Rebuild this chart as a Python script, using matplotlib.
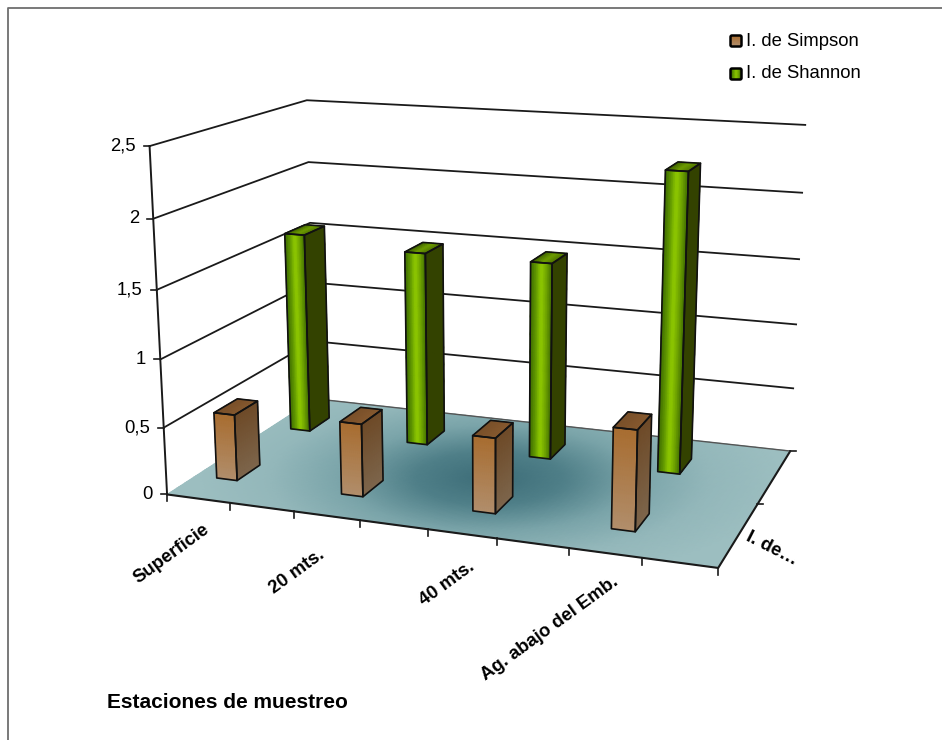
import numpy as np
import matplotlib
matplotlib.use("Agg")
import matplotlib.pyplot as plt
from matplotlib.colors import LinearSegmentedColormap as LSC
from matplotlib.patches import Polygon, FancyBboxPatch

plt.rcParams['font.family'] = ['Liberation Sans', 'DejaVu Sans']

categories = ["Superficie", "20 mts.", "40 mts.", "Ag. abajo del Emb."]
series_names = ["I. de Simpson", "I. de Shannon"]
simpson = [0.50, 0.54, 0.55, 0.72]
shannon = [1.58, 1.51, 1.51, 2.25]
z_ticks = [0, 0.5, 1, 1.5, 2, 2.5]
z_labels = ["0", "0,5", "1", "1,5", "2", "2,5"]

# Camera calibration: world corners of the plot box and where they land on the page
world = np.array([(0,0,0),(0,0,.5),(0,0,1),(0,0,1.5),(0,0,2),(0,0,2.5),
                  (0,2,0),(0,2,.5),(0,2,1),(0,2,1.5),(0,2,2),(0,2,2.5),
                  (4,2,0),(4,2,.5),(4,2,1),(4,2,1.5),(4,2,2),(4,2,2.5),
                  (4,0,0)], float)
page = np.array([(167.3,494.3),(163.3,427.3),(160,359.3),(156.7,290),(153.3,218.3),(150,146.7),
                 (315,398.5),(313.5,342),(311.7,283),(310,222.7),(308.3,161.7),(306.7,100),
                 (790,450.7),(793.3,388.3),(796,324.3),(799.3,259.3),(802.3,192.7),(805,125),
                 (718.3,568.3)], float)
rows = []; rhs = []
for (x, y, z), (u, v) in zip(world, page):
    rows.append([x, y, z, 1, 0, 0, 0, 0, -u*x, -u*y, -u*z]); rhs.append(u)
    rows.append([0, 0, 0, 0, x, y, z, 1, -v*x, -v*y, -v*z]); rhs.append(v)
sol = np.linalg.lstsq(np.array(rows), np.array(rhs), rcond=None)[0]
P = np.append(sol, 1).reshape(3, 4)


def project(x, y, z):
    x, y, z = np.broadcast_arrays(np.asarray(x, float), np.asarray(y, float), np.asarray(z, float))
    w = P[2, 0]*x + P[2, 1]*y + P[2, 2]*z + P[2, 3]
    return ((P[0, 0]*x + P[0, 1]*y + P[0, 2]*z + P[0, 3]) / w,
            (P[1, 0]*x + P[1, 1]*y + P[1, 2]*z + P[1, 3]) / w)


fig = plt.figure(figsize=(9.42, 7.40), dpi=100, facecolor="white")
ax = fig.add_axes([0, 0, 1, 1])
ax.set_axis_off()

LINE = "#1a1a1a"

# Outer chart frame, open on the right and at the bottom
ax.plot([7.7, 7.7, 942], [740, 8.3, 8.3], color="#6e6e6e", lw=1.3, zorder=1)

# Floor with a soft radial shade
floor_cmap = LSC.from_list("floor", ["#3d6d78", "#4f7f88", "#7aa4a9", "#93b7ba", "#9cbec0"])
u, v = np.meshgrid(np.linspace(0, 1, 90), np.linspace(0, 1, 90))
fx, fy = project(u*4, v*2, 0*u)
t = np.clip(np.hypot((fx-490)/290, (fy-478)/105), 0, 1)
ax.pcolormesh(fx, fy, t, cmap=floor_cmap, vmin=0, vmax=1, shading="gouraud", zorder=2)
xs, ys = project([0, 4, 4], [0, 0, 2], [0, 0, 0])
ax.plot(xs, ys, color=LINE, lw=1.5, zorder=3, solid_capstyle="round")
xs, ys = project([0, 4], [2, 2], [0, 0])
ax.plot(xs, ys, color="#555555", lw=1.0, zorder=3)

# Gridlines along the two walls
for z in z_ticks[1:]:
    xs, ys = project([0, 0, 4], [0, 2, 2], [z, z, z])
    ax.plot(xs, ys, color=LINE, lw=1.3, zorder=3)

# Value axis with ticks and labels
xs, ys = project([0, 0], [0, 0], [0, z_ticks[-1]])
ax.plot(xs, ys, color=LINE, lw=1.4, zorder=3)
for z, lab in zip(z_ticks, z_labels):
    px, py = project(0, 0, z)
    ax.plot([px-6, px], [py, py], color=LINE, lw=1.2, zorder=3)
    ax.text(px-14, py, lab, ha="right", va="center", fontsize=13.3, color="black")

# Category axis ticks every half step, depth axis ticks every whole step
for k in np.arange(0, 4.01, 0.5):
    px, py = project(k, 0, 0)
    ax.plot([px, px], [py, py+7], color=LINE, lw=1.2, zorder=3)
for k in [1, 2]:
    px, py = project(4, k, 0)
    ax.plot([px, px+6], [py, py], color=LINE, lw=1.2, zorder=3)

label_anchor = [(203, 521), (318, 546), (468, 558), (611, 573)]
for name, (lx, ly) in zip(categories, label_anchor):
    ax.text(lx, ly, name, rotation=36, rotation_mode="anchor", ha="right", va="top",
            fontsize=13.3, fontweight="bold", color="black")
ax.text(747, 536, "I. de…", rotation=-27, rotation_mode="anchor", ha="left", va="center",
        fontsize=13.3, fontweight="bold", color="black")
ax.text(107, 703, "Estaciones de muestreo", ha="left", va="center", fontsize=15,
        fontweight="bold", color="black")

# Colour ramps for the bar faces
green_front = LSC.from_list("gf", ["#3d6a00", "#5f9600", "#92cc00", "#6fa400", "#3f6c00"])
green_side = LSC.from_list("gs", ["#334200", "#334200"])
green_top = LSC.from_list("gt", ["#3f6200", "#6f9e00", "#4f7400"])
brown_front = LSC.from_list("bf", ["#a86d30", "#b18e6c"])
brown_side = LSC.from_list("bs", ["#6e4a28", "#7d664c"])
brown_top = LSC.from_list("bt", ["#7a5029", "#86592f"])
GREEN = (green_front, green_side, green_top, "x")
BROWN = (brown_front, brown_side, brown_top, "z")

BAR_X = (1/6, 1/3)
BAR_Y = (0.35, 0.645)


def shaded_face(a, b, c, d, cmap, along, zo):
    # Bilinear patch a-b (bottom) d-c (top), shaded across s or up r
    s, r = np.meshgrid(np.linspace(0, 1, 12), np.linspace(0, 1, 12))
    pts = [np.array(q, float) for q in (a, b, c, d)]
    X = [(1-s)*(1-r)*pts[0][i] + s*(1-r)*pts[1][i] + s*r*pts[2][i] + (1-s)*r*pts[3][i] for i in range(3)]
    px, py = project(*X)
    val = s if along == "x" else 1 - r
    ax.pcolormesh(px, py, val, cmap=cmap, vmin=0, vmax=1, shading="gouraud", zorder=zo)
    return px, py


def draw_bar(cat, row, h, style, zo):
    x0, x1 = cat + BAR_X[0], cat + BAR_X[1]
    y0, y1 = row + BAR_Y[0], row + BAR_Y[1]
    front, side, top, along = style
    shaded_face((x0, y0, 0), (x1, y0, 0), (x1, y0, h), (x0, y0, h), front, along, zo)
    shaded_face((x1, y0, 0), (x1, y1, 0), (x1, y1, h), (x1, y0, h), side, "z", zo)
    shaded_face((x0, y0, h), (x1, y0, h), (x1, y1, h), (x0, y1, h), top, "x", zo)
    outlines = [[(x0, y0, 0), (x1, y0, 0), (x1, y0, h), (x0, y0, h)],
                [(x1, y0, 0), (x1, y1, 0), (x1, y1, h), (x1, y0, h)],
                [(x0, y0, h), (x1, y0, h), (x1, y1, h), (x0, y1, h)]]
    for o in outlines:
        a = np.array(o)
        qx, qy = project(a[:, 0], a[:, 1], a[:, 2])
        ax.add_patch(Polygon(np.c_[qx, qy], closed=True, fill=False, ec="#111111", lw=1.2,
                             joinstyle="round", zorder=zo))


for i, h in enumerate(shannon):
    draw_bar(i, 1, h, GREEN, 10 + i)
for i, h in enumerate(simpson):
    draw_bar(i, 0, h, BROWN, 20 + i)

# Legend
for ly, name, kind in zip([41, 74], series_names, ["brown", "green"]):
    sx, sy = np.meshgrid(np.linspace(731, 741, 8), np.linspace(ly-5, ly+5, 8))
    if kind == "brown":
        ax.pcolormesh(sx, sy, (sy-sy.min())/10, cmap=brown_front, shading="gouraud", zorder=5)
    else:
        ax.pcolormesh(sx, sy, (sx-sx.min())/10, cmap=green_front, shading="gouraud", zorder=5)
    ax.add_patch(FancyBboxPatch((730.5, ly-5.5), 11, 11, boxstyle="round,pad=0,rounding_size=1.5",
                                fc="none", ec="black", lw=1.8, zorder=6))
    ax.text(746, ly, name, ha="left", va="center", fontsize=13.3, color="black")

ax.set_xlim(0, 942)
ax.set_ylim(740, 0)
fig.savefig("out.png", dpi=100)
